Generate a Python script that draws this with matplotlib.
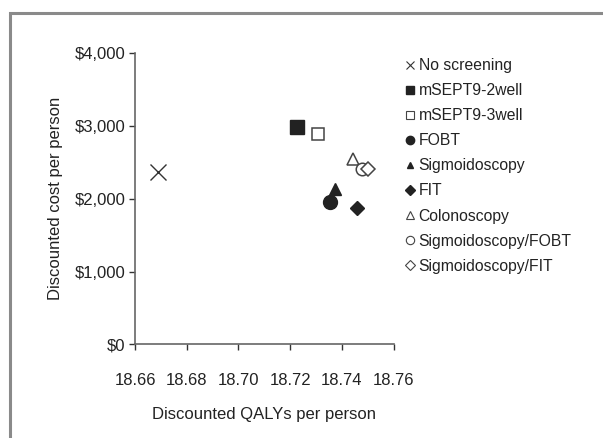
import matplotlib
matplotlib.use("Agg")
import matplotlib.pyplot as plt
from matplotlib.lines import Line2D
from matplotlib.patches import Rectangle
from matplotlib.ticker import FuncFormatter

plt.rcParams['font.family'] = ['Liberation Sans', 'DejaVu Sans']

# strategies
strategies = ["No screening", "mSEPT9-2well", "mSEPT9-3well", "FOBT", "Sigmoidoscopy",
              "FIT", "Colonoscopy", "Sigmoidoscopy/FOBT", "Sigmoidoscopy/FIT"]
qalys = [18.669, 18.7227, 18.7307, 18.7354, 18.7374, 18.7457, 18.7444, 18.7479, 18.7500]
costs = [2362, 2982, 2890, 1950, 2140, 1867, 2541, 2408, 2410]

markers = ["x", "s", "s", "o", "^", "D", "^", "o", "D"]
filled = [True, True, False, True, True, True, False, False, False]
sizes = [11, 9.5, 9, 10, 8.5, 7, 9, 9, 7.5]
legend_sizes = [6, 6, 6, 6, 4, 5, 6, 6, 5]

xticks = [18.66, 18.68, 18.70, 18.72, 18.74, 18.76]
yticks = [0, 1000, 2000, 3000, 4000]

fig = plt.figure(figsize=(6.03, 4.38), dpi=100)
ax = fig.add_axes([0.2239, 0.2139, 0.429, 0.6644])

dark = "#222222"
for i in range(len(strategies)):
    if markers[i] == "x":
        ax.plot(qalys[i], costs[i], marker="x", ms=sizes[i], mew=1.0, color="#333333", ls="")
    elif filled[i]:
        ax.plot(qalys[i], costs[i], marker=markers[i], ms=sizes[i], color=dark, mec=dark, ls="")
    else:
        ax.plot(qalys[i], costs[i], marker=markers[i], ms=sizes[i], mfc="white", mec="#444444",
                mew=1.1, ls="")

ax.set_xlim(18.66, 18.76)
ax.set_ylim(0, 4000)
ax.set_xticks(xticks)
ax.set_xticklabels([f"{v:.2f}" for v in xticks])
ax.set_yticks(yticks)
ax.yaxis.set_major_formatter(FuncFormatter(lambda v, p: f"${v:,.0f}"))
ax.tick_params(labelsize=12, colors="#333333", labelcolor="#222222", length=4, width=1)
ax.tick_params(axis="x", pad=17)
ax.tick_params(axis="y", pad=3)
for s in ["top", "right"]:
    ax.spines[s].set_visible(False)
for s in ["left", "bottom"]:
    ax.spines[s].set_color("#666666")
    ax.spines[s].set_linewidth(1.2)

ax.set_xlabel("Discounted QALYs per person", fontsize=12, color="#222222", labelpad=13)
ax.set_ylabel("Discounted cost per person", fontsize=12, color="#222222", labelpad=8)

# legend with small markers
handles = []
for i in range(len(strategies)):
    if markers[i] == "x":
        h = Line2D([], [], marker="x", ms=legend_sizes[i], mew=0.8, color="#333333", ls="")
    elif filled[i]:
        h = Line2D([], [], marker=markers[i], ms=legend_sizes[i], color=dark, ls="")
    else:
        h = Line2D([], [], marker=markers[i], ms=legend_sizes[i], mfc="white", mec="#444444",
                   mew=0.8, ls="")
    handles.append(h)
fig.legend(handles, strategies, loc="upper left", bbox_to_anchor=(0.672, 0.867),
           frameon=False, fontsize=11.3, handlelength=0.6, handletextpad=0.25,
           labelspacing=0.64, borderaxespad=0, borderpad=0, labelcolor="#222222")

# grey frame around the panel
fig.patches.append(Rectangle((10 / 603, -0.1), 1.2, 1 - 13 / 438 + 0.1,
                             transform=fig.transFigure, fill=False,
                             edgecolor="#8a8a8a", linewidth=2.2))

fig.savefig("out.png", dpi=100)
